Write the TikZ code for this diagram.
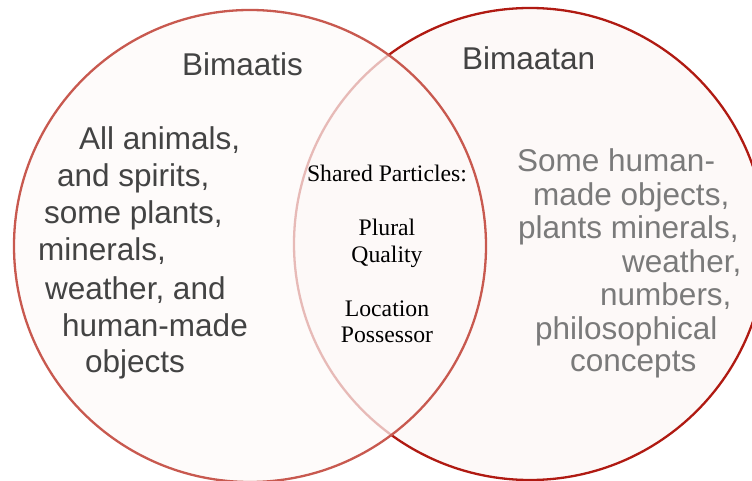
\documentclass[tikz,border=0pt]{standalone}
\usepackage{fontspec}
\setmainfont{Liberation Serif}
\newfontfamily\helv{Liberation Sans}
\definecolor{leftline}{HTML}{C8594F}
\definecolor{rightline}{HTML}{B01A12}
\definecolor{vfill}{HTML}{FDF9F8}
\definecolor{darktxt}{HTML}{434343}
\definecolor{greytxt}{HTML}{7A7A7A}
\tikzset{
  sanstxt/.style={anchor=base west, inner sep=0pt, font=\helv\fontsize{31.5}{37}\selectfont},
  lefttxt/.style={sanstxt, text=darktxt},
  righttxt/.style={sanstxt, text=greytxt},
  midtxt/.style={anchor=base, inner sep=0pt, text=black, font=\fontsize{23.7}{26.5}\selectfont},
}
\begin{document}
\begin{tikzpicture}[x=1pt,y=-1pt]
\useasboundingbox (0,0) rectangle (752,481);
\clip (0,0) rectangle (752,481);
% right circle
\path[fill=vfill, draw=rightline, line width=2.3pt] (530,244) circle[radius=236];
% left circle
\path[fill=vfill, fill opacity=0.72] (250,246) circle[radius=236];
\draw[leftline, line width=2.3pt] (250,246) circle[radius=236];
% titles
\node[lefttxt] (t1) at (182,76) {Bimaatis};
\node[lefttxt] (t2) at (462,70) {Bimaatan};
% left block
\node[lefttxt] (l1) at (79,150) {All animals,};
\node[lefttxt] (l2) at (57,187) {and spirits,};
\node[lefttxt] (l3) at (44,223) {some plants,};
\node[lefttxt] (l4) at (38,260) {minerals,};
\node[lefttxt] (l5) at (45,299) {weather, and};
\node[lefttxt] (l6) at (62,336) {human-made};
\node[lefttxt] (l7) at (85,372) {objects};
% right block
\node[righttxt] (r1) at (517,172) {Some human-};
\node[righttxt] (r2) at (533,205) {made objects,};
\node[righttxt] (r3) at (518,238) {plants minerals,};
\node[righttxt] (r4) at (622,272) {weather,};
\node[righttxt] (r5) at (600,305) {numbers,};
\node[righttxt] (r6) at (535,339) {philosophical};
\node[righttxt] (r7) at (570,371) {concepts};
% middle
\node[midtxt] (m1) at (387,182) {Shared Particles:};
\node[midtxt] (m2) at (387,235) {Plural};
\node[midtxt] (m3) at (387,262) {Quality};
\node[midtxt] (m4) at (387,316) {Location};
\node[midtxt] (m5) at (387,342) {Possessor};
\end{tikzpicture}
\end{document}
